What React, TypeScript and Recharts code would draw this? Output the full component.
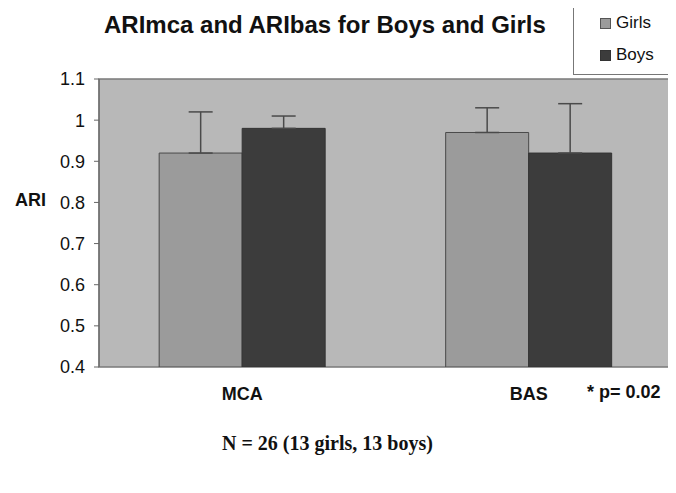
import { Bar, BarChart, CartesianGrid, ErrorBar, ReferenceArea, XAxis, YAxis } from 'recharts'

const categories = ['MCA', 'BAS']
const girls = [0.92, 0.97]
const boys = [0.98, 0.92]
const girlsErr = [0.1, 0.06]
const boysErr = [0.03, 0.12]
const yTicks = [0.4, 0.5, 0.6, 0.7, 0.8, 0.9, 1, 1.1]

const data = categories.map((c, i) => ({
  name: c,
  girls: girls[i],
  boys: boys[i],
  girlsErr: [0, girlsErr[i]],
  boysErr: [0, boysErr[i]],
}))

const sans = '"Liberation Sans", Arial, sans-serif'

export default function App() {
  return (
    <div style={{ position: 'relative', width: 676, height: 493, margin: -8, background: '#fff', fontFamily: sans }}>
      <BarChart width={676} height={493} data={data} margin={{ top: 79, right: 4, left: 39, bottom: 86 }} barCategoryGap="21%" barGap={0}>
        <CartesianGrid fill="#b8b8b8" horizontal={false} vertical={false} />
        <ReferenceArea y1={0.4} y2={1.1} fill="none" stroke="#7a7a7a" strokeWidth={1.5} ifOverflow="extendDomain" />
        <XAxis
          dataKey="name"
          axisLine={false}
          tickLine={false}
          height={40}
          tick={{ fill: '#111', fontSize: 18, fontWeight: 700, fontFamily: sans }}
          tickMargin={14}
        />
        <YAxis
          domain={[0.4, 1.1]}
          ticks={yTicks}
          width={60}
          axisLine={{ stroke: '#666' }}
          tickLine={{ stroke: '#666' }}
          tickSize={5}
          tickMargin={9}
          tick={{ fill: '#111', fontSize: 18, fontFamily: sans }}
          allowDataOverflow
        />
        <Bar dataKey="girls" fill="#9b9b9b" stroke="#4a4a4a" strokeWidth={1} isAnimationActive={false}>
          <ErrorBar dataKey="girlsErr" width={12} stroke="#4a4a4a" strokeWidth={1.5} direction="y" />
        </Bar>
        <Bar dataKey="boys" fill="#3c3c3c" stroke="#333" strokeWidth={1} isAnimationActive={false}>
          <ErrorBar dataKey="boysErr" width={12} stroke="#4a4a4a" strokeWidth={1.5} direction="y" />
        </Bar>
      </BarChart>
      <div style={{ position: 'absolute', left: 104, top: 11, fontSize: 24, fontWeight: 700, color: '#111', whiteSpace: 'nowrap' }}>
        ARImca and ARIbas for Boys and Girls
      </div>
      <div
        style={{
          position: 'absolute',
          left: 573,
          top: 7,
          width: 110,
          height: 68,
          border: '1px solid #777',
          background: '#fff',
          boxSizing: 'border-box',
          fontSize: 17,
          color: '#111',
        }}
      >
        <div style={{ position: 'absolute', left: 26, top: 5, display: 'flex', alignItems: 'center' }}>
          <span style={{ width: 9, height: 9, background: '#9b9b9b', border: '1px solid #555', marginRight: 5 }} />
          Girls
        </div>
        <div style={{ position: 'absolute', left: 26, top: 37, display: 'flex', alignItems: 'center' }}>
          <span style={{ width: 9, height: 9, background: '#3c3c3c', border: '1px solid #333', marginRight: 5 }} />
          Boys
        </div>
      </div>
      <div style={{ position: 'absolute', left: 15, top: 190, fontSize: 18, fontWeight: 700, color: '#111' }}>ARI</div>
      <div style={{ position: 'absolute', left: 587, top: 382, fontSize: 18, fontWeight: 700, color: '#111' }}>* p= 0.02</div>
      <div
        style={{
          position: 'absolute',
          left: 222,
          top: 432,
          fontSize: 20,
          fontWeight: 700,
          color: '#111',
          fontFamily: '"Liberation Serif", "Times New Roman", serif',
        }}
      >
        N = 26 (13 girls, 13 boys)
      </div>
    </div>
  )
}
